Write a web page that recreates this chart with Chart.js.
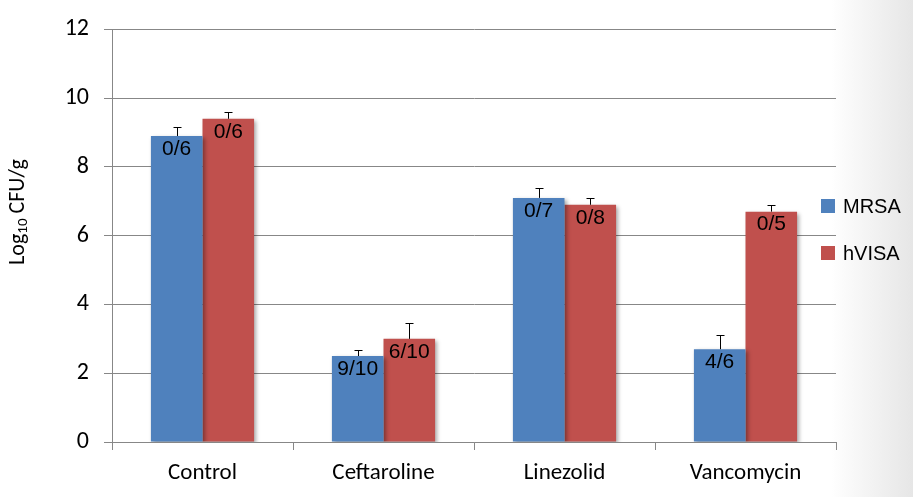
<!DOCTYPE html>
<html>
<head>
<meta charset="utf-8">
<script src="https://cdn.jsdelivr.net/npm/chart.js@4.4.1/dist/chart.umd.min.js"></script>
<style>
  html, body { margin: 0; padding: 0; }
  body {
    width: 913px; height: 497px; overflow: hidden;
    background: linear-gradient(to right, #ffffff 0%, #ffffff 91%, #e6e6e6 100%);
  }
  #wrap { position: relative; width: 913px; height: 497px; }
</style>
</head>
<body>
<div id="wrap"><canvas id="myChart" width="913" height="497"></canvas></div>
<script>
const categories = ['Control', 'Ceftaroline', 'Linezolid', 'Vancomycin']
const mrsa = [8.9, 2.5, 7.1, 2.7]
const hvisa = [9.4, 3.0, 6.9, 6.7]
const mrsaErr = [0.27, 0.17, 0.3, 0.4]
const hvisaErr = [0.2, 0.45, 0.2, 0.2]
const mrsaLabels = ['0/6', '9/10', '0/7', '4/6']
const hvisaLabels = ['0/6', '6/10', '0/8', '0/5']
const yTicks = [0, 2, 4, 6, 8, 10, 12]

const axisFont = 'Carlito, Calibri, Lato, sans-serif'
const labelFont = '"Liberation Sans", Arial, sans-serif'
const gridColor = '#878787'

const errs = [mrsaErr, hvisaErr]
const barLabels = [mrsaLabels, hvisaLabels]

// shadow under the bars
const shadowPlugin = {
    id: 'barShadow',
    beforeDatasetsDraw(chart) {
        const ctx = chart.ctx
        ctx.save()
        ctx.shadowColor = 'rgba(0,0,0,0.35)'
        ctx.shadowBlur = 4
        ctx.shadowOffsetX = 2
        ctx.shadowOffsetY = 2
    },
    afterDatasetsDraw(chart) {
        chart.ctx.restore()
    }
}

// error bars, count labels, y title and legend
const extrasPlugin = {
    id: 'extras',
    afterDraw(chart) {
        const ctx = chart.ctx
        const y = chart.scales.y
        ctx.save()
        chart.data.datasets.forEach((ds, di) => {
            const meta = chart.getDatasetMeta(di)
            meta.data.forEach((bar, i) => {
                const top = y.getPixelForValue(ds.data[i])
                const errTop = y.getPixelForValue(ds.data[i] + errs[di][i])
                const x = Math.round(bar.x) + 0.5
                ctx.strokeStyle = '#000'
                ctx.lineWidth = 1
                ctx.beginPath()
                ctx.moveTo(x, top)
                ctx.lineTo(x, Math.round(errTop) + 0.5)
                ctx.moveTo(x - 4, Math.round(errTop) + 0.5)
                ctx.lineTo(x + 4, Math.round(errTop) + 0.5)
                ctx.stroke()

                ctx.fillStyle = '#000'
                ctx.font = '21px ' + labelFont
                ctx.textAlign = 'center'
                ctx.textBaseline = 'middle'
                ctx.fillText(barLabels[di][i], bar.x, top + 13)
            })
        })

        // y axis title with subscript
        ctx.translate(18, 212)
        ctx.rotate(-Math.PI / 2)
        ctx.fillStyle = '#000'
        ctx.textBaseline = 'middle'
        ctx.textAlign = 'left'
        const big = '22px ' + axisFont
        const small = '15px ' + axisFont
        ctx.font = big
        const w1 = ctx.measureText('Log').width
        const w3 = ctx.measureText(' CFU/g').width
        ctx.font = small
        const w2 = ctx.measureText('10').width
        let x0 = -(w1 + w2 + w3) / 2
        ctx.font = big
        ctx.fillText('Log', x0, 0)
        ctx.font = small
        ctx.fillText('10', x0 + w1, 5)
        ctx.font = big
        ctx.fillText(' CFU/g', x0 + w1 + w2, 0)
        ctx.restore()

        // legend
        ctx.save()
        ctx.font = '20px ' + labelFont
        ctx.textBaseline = 'middle'
        ctx.textAlign = 'left'
        const legendY = [206, 253]
        chart.data.datasets.forEach((ds, di) => {
            ctx.fillStyle = ds.backgroundColor
            ctx.fillRect(821, legendY[di] - 7, 14, 14)
            ctx.fillStyle = '#000'
            ctx.fillText(ds.label, 843, legendY[di] + 1)
        })
        ctx.restore()
    }
}

const data1 = {
    labels: categories,
    datasets: [{
        label: 'MRSA',
        data: mrsa,
        backgroundColor: '#4F81BD'
    }, {
        label: 'hVISA',
        data: hvisa,
        backgroundColor: '#C0504D'
    }]
}

const config = {
    type: 'bar',
    data: data1,
    options: {
        responsive: false,
        animation: false,
        layout: { padding: { top: 29, right: 77, left: 0, bottom: 0 } },
        plugins: {
            legend: { display: false },
            tooltip: { enabled: false }
        },
        datasets: {
            bar: { categoryPercentage: 0.57, barPercentage: 1.0 }
        },
        scales: {
            x: {
                afterFit: (scale) => { scale.height = 55 },
                grid: {
                    offset: true,
                    drawOnChartArea: false,
                    tickLength: 8,
                    color: gridColor
                },
                border: { color: gridColor },
                ticks: {
                    padding: 9,
                    color: '#000',
                    font: { family: axisFont, size: 23 }
                }
            },
            y: {
                min: 0,
                max: 12,
                afterFit: (scale) => { scale.width = 112 },
                afterBuildTicks: (scale) => { scale.ticks = yTicks.map(v => ({ value: v })) },
                grid: { color: gridColor, tickLength: 8 },
                border: { color: gridColor },
                ticks: {
                    padding: 15,
                    color: '#000',
                    font: { family: axisFont, size: 24 }
                }
            }
        }
    },
    plugins: [shadowPlugin, extrasPlugin]
}

const myChart = new Chart(document.getElementById('myChart'), config)
</script>
</body>
</html>
